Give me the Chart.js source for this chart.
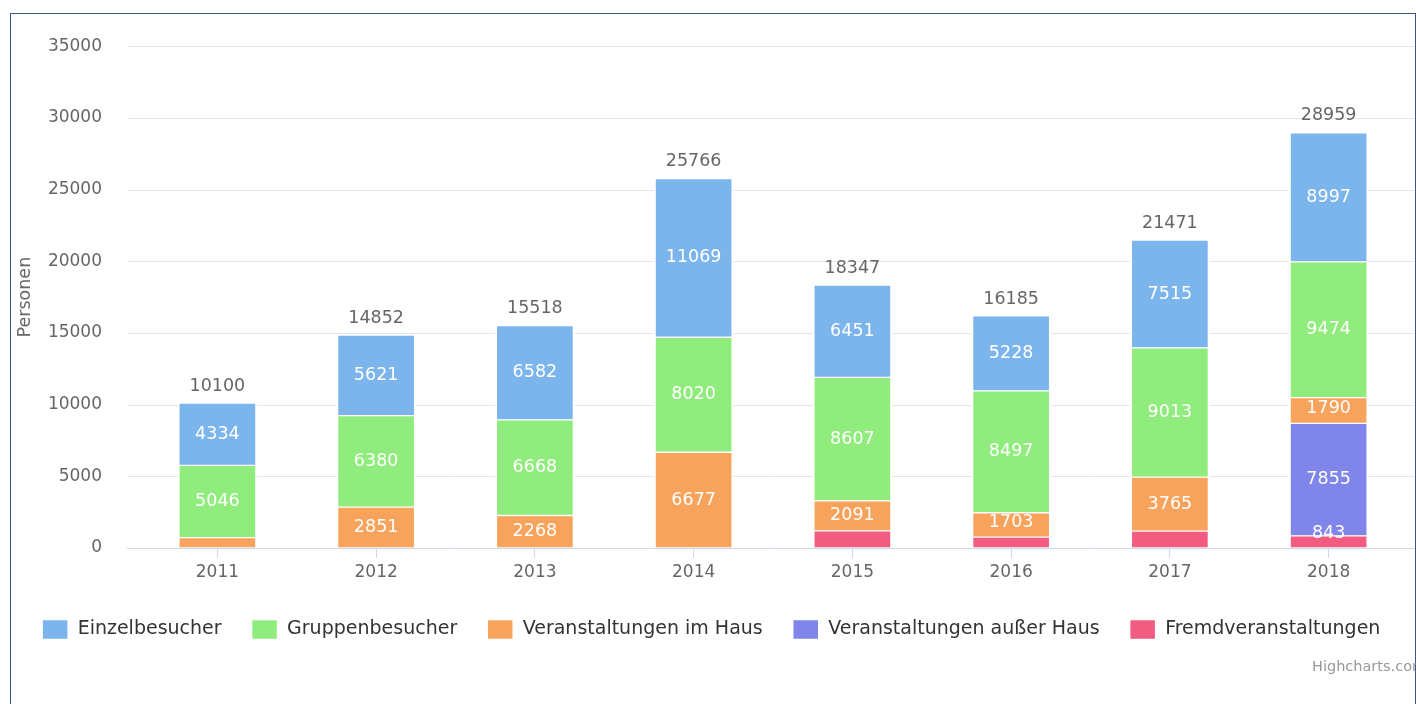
<!DOCTYPE html>
<html>
<head>
<meta charset="utf-8">
<script src="https://cdn.jsdelivr.net/npm/chart.js@4.4.1/dist/chart.umd.min.js"></script>
<style>
    html, body { margin: 0; padding: 0; background: #fff; overflow: hidden; }
    #wrap { position: relative; width: 1416px; height: 704px; }
    #frame { position: absolute; left: 10px; top: 13px; width: 1406px; height: 760px; border: 1px solid #3d5683; box-sizing: border-box; pointer-events: none; }
    #credits { position: absolute; left: 1312px; top: 658px; font: 14.5px "DejaVu Sans", sans-serif; color: #999; white-space: nowrap; }
    canvas { position: absolute; left: 0; top: 0; }
</style>
</head>
<body>
<div id="wrap">
    <canvas id="besucherChart" width="1416" height="704"></canvas>
    <div id="frame"></div>
    <div id="credits">Highcharts.com</div>
</div>
<script>
const years = ['2011', '2012', '2013', '2014', '2015', '2016', '2017', '2018'];
const einzelbesucher = [4334, 5621, 6582, 11069, 6451, 5228, 7515, 8997];
const gruppenbesucher = [5046, 6380, 6668, 8020, 8607, 8497, 9013, 9474];
const veranstaltungenImHaus = [720, 2851, 2268, 6677, 2091, 1703, 3765, 1790];
const veranstaltungenAusserHaus = [0, 0, 0, 0, 0, 0, 0, 7855];
const fremdveranstaltungen = [0, 0, 0, 0, 1198, 757, 1178, 843];
const yMax = 35000;
const yStep = 5000;

// labels highcharts dropped because they did not fit
const hiddenLabels = {
    'Veranstaltungen im Haus': [0],
    'Fremdveranstaltungen': [4, 5, 6]
};

const FONT = '"DejaVu Sans", "Lucida Grande", sans-serif';
const GRID_LEFT = 127;
const GRID_RIGHT = 1414;

const gridPlugin = {
    id: 'hcGrid',
    beforeDatasetsDraw(chart) {
        const { ctx } = chart;
        const yScale = chart.scales.y;
        ctx.save();
        ctx.lineWidth = 1;
        yScale.ticks.forEach(t => {
            const py = Math.round(yScale.getPixelForValue(t.value)) + 0.5;
            ctx.strokeStyle = t.value === 0 ? '#ccd6eb' : '#e6e6e6';
            ctx.beginPath();
            ctx.moveTo(GRID_LEFT, py);
            ctx.lineTo(GRID_RIGHT, py);
            ctx.stroke();
        });
        ctx.restore();
    }
};

const labelPlugin = {
    id: 'hcLabels',
    afterDatasetsDraw(chart) {
        const { ctx } = chart;
        const yScale = chart.scales.y;
        ctx.save();
        ctx.textAlign = 'center';
        ctx.textBaseline = 'middle';
        ctx.font = '17.5px ' + FONT;
        ctx.fillStyle = '#ffffff';

        chart.data.datasets.forEach((ds, di) => {
            const meta = chart.getDatasetMeta(di);
            if (meta.hidden) return;
            const skip = hiddenLabels[ds.label] || [];
            meta.data.forEach((bar, i) => {
                const v = ds.data[i];
                if (!v || skip.includes(i)) return;
                const { x, y, base } = bar.getProps(['x', 'y', 'base'], true);
                const cy = Math.min((y + base) / 2, base - 15);
                ctx.fillText(String(v), x, cy);
            });
        });

        // stack totals
        ctx.fillStyle = '#666666';
        years.forEach((yr, i) => {
            let total = 0;
            chart.data.datasets.forEach((ds, di) => {
                if (chart.isDatasetVisible(di)) total += ds.data[i] || 0;
            });
            const x = chart.getDatasetMeta(0).data[i].x;
            ctx.fillText(String(total), x, yScale.getPixelForValue(total) - 17);
        });
        ctx.restore();
    }
};

// keep the legend on one row like the original (chart.js wraps a bit early)
const SPARE = 40;
const legendRowPlugin = {
    id: 'legendRow',
    afterInit(chart) {
        const lg = chart.legend;
        if (!lg) return;
        const fitRows = lg._fitRows;
        lg._fitRows = function (...args) {
            const mw = this.maxWidth;
            this.maxWidth = mw + SPARE;
            const res = fitRows.apply(this, args);
            this.maxWidth = mw;
            return res;
        };
        const draw = lg._draw;
        lg._draw = function () {
            const l = this.left, r = this.right;
            this.left = l - SPARE / 2;
            this.right = r + SPARE / 2;
            draw.apply(this);
            this.left = l;
            this.right = r;
        };
    }
};

function series(label, data, color) {
    return {
        label,
        data,
        backgroundColor: color,
        borderColor: '#ffffff',
        borderWidth: { top: 1, bottom: 1, left: 2, right: 2 },
        borderSkipped: false,
        barThickness: 79
    };
}

const ctx = document.getElementById('besucherChart').getContext('2d');
new Chart(ctx, {
    type: 'bar',
    data: {
        labels: years,
        // bottom of the stack first, legend is reversed
        datasets: [
            series('Fremdveranstaltungen', fremdveranstaltungen, '#f15c80'),
            series('Veranstaltungen außer Haus', veranstaltungenAusserHaus, '#8085e9'),
            series('Veranstaltungen im Haus', veranstaltungenImHaus, '#f7a35c'),
            series('Gruppenbesucher', gruppenbesucher, '#90ed7d'),
            series('Einzelbesucher', einzelbesucher, '#7cb5ec')
        ]
    },
    plugins: [gridPlugin, labelPlugin, legendRowPlugin],
    options: {
        responsive: false,
        animation: false,
        layout: { padding: { left: 14.5, right: 8, top: 42, bottom: 54.5 } },
        plugins: {
            tooltip: { enabled: false },
            legend: {
                position: 'bottom',
                reverse: true,
                labels: {
                    boxWidth: 26,
                    boxHeight: 20,
                    padding: 30,
                    color: '#333333',
                    font: { family: FONT, size: 19 }
                }
            }
        },
        scales: {
            x: {
                stacked: true,
                grid: {
                    display: true,
                    drawOnChartArea: false,
                    drawTicks: true,
                    tickLength: 10,
                    offset: false,
                    color: '#ccd6eb'
                },
                border: { display: false },
                ticks: { color: '#666666', padding: 4, font: { family: FONT, size: 17 } },
                afterFit(scale) { scale.height = 41.5; }
            },
            y: {
                stacked: true,
                min: 0,
                max: yMax,
                grid: { display: false, drawTicks: false },
                border: { display: false },
                ticks: {
                    stepSize: yStep,
                    padding: 36,
                    color: '#666666',
                    font: { family: FONT, size: 17 },
                    callback: v => String(v)
                },
                title: {
                    display: true,
                    text: 'Personen',
                    color: '#666666',
                    padding: 0,
                    font: { family: FONT, size: 17.5 }
                },
                afterFit(scale) { scale.width = 123.5; }
            }
        }
    }
});
</script>
</body>
</html>
